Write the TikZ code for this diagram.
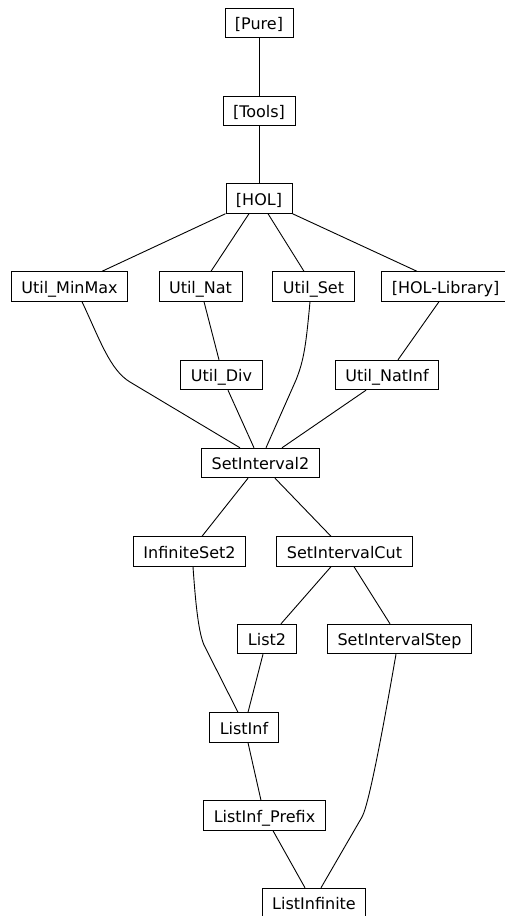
\documentclass[tikz,border=0pt]{standalone}
\usepackage{fontspec}
\setmainfont{DejaVu Sans}
\usetikzlibrary{positioning}

\begin{document}
\begin{tikzpicture}[
    x=1pt, y=-1pt,
    every node/.style={font=\fontsize{16}{19}\selectfont},
    thy/.style={draw, line width=0.9pt, inner xsep=10pt, inner ysep=0pt, minimum height=29.5pt, text height=13pt, text depth=0pt},
    dep/.style={line width=0.9pt}
]
\useasboundingbox (0,0) rectangle (505,916);
% theories
\node[thy] (pure) at (259,23) {[Pure]};
\node[thy] (tools) at (259,111) {[Tools]};
\node[thy] (hol) at (259,198.5) {[HOL]};
\node[thy] (minmax) at (69.5,286.5) {Util\_MinMax};
\node[thy] (nat) at (200.5,286.5) {Util\_Nat};
\node[thy] (set) at (313.5,286.5) {Util\_Set};
\node[thy] (hollib) at (445.5,286.5) {[HOL-Library]};
\node[thy] (div) at (221.5,375) {Util\_Div};
\node[thy] (natinf) at (387,375) {Util\_NatInf};
\node[thy] (si2) at (260.5,463) {SetInterval2};
\node[thy] (inf2) at (189.5,551.5) {InfiniteSet2};
\node[thy] (cut) at (344.5,551.5) {SetIntervalCut};
\node[thy] (list2) at (267,639) {List2};
\node[thy] (step) at (399.5,639) {SetIntervalStep};
\node[thy] (listinf) at (244,727.5) {ListInf};
\node[thy] (prefix) at (264.5,815.5) {ListInf\_Prefix};
\node[thy] (infinite) at (314,903) {ListInfinite};
% imports
\draw[dep] (pure.south) -- (tools.north);
\draw[dep] (tools.south) -- (hol.north);
\draw[dep] (hol.south west) -- ([xshift=32.5pt]minmax.north);
\draw[dep] ([xshift=-10pt]hol.south) -- ([xshift=10.5pt]nat.north);
\draw[dep] ([xshift=9pt]hol.south) -- ([xshift=-9.5pt]set.north);
\draw[dep] (hol.south east) -- ([xshift=-28.5pt]hollib.north);
\draw[dep] ([xshift=12.5pt]minmax.south) .. controls (100,340) and (110,370) .. (130,382) -- ([xshift=-20.5pt]si2.north);
\draw[dep] ([xshift=3.5pt]nat.south) -- ([xshift=-2.5pt]div.north);
\draw[dep] ([xshift=-3.5pt]set.south) .. controls (306,345) and (304,360) .. (296,380) -- ([xshift=5.5pt]si2.north);
\draw[dep] ([xshift=-6.5pt]hollib.south) -- ([xshift=11pt]natinf.north);
\draw[dep] ([xshift=6.5pt]div.south) -- ([xshift=-6.5pt]si2.north);
\draw[dep] ([xshift=-21pt]natinf.south) -- ([xshift=21.5pt]si2.north);
\draw[dep] ([xshift=-12.5pt]si2.south) -- ([xshift=12.5pt]inf2.north);
\draw[dep] ([xshift=14.5pt]si2.south) -- ([xshift=-13.5pt]cut.north);
\draw[dep] ([xshift=3.5pt]inf2.south) .. controls (196,610) and (199,633) .. (204,645) -- ([xshift=-6pt]listinf.north);
\draw[dep] ([xshift=-13.5pt]cut.south) -- ([xshift=14pt]list2.north);
\draw[dep] ([xshift=9.5pt]cut.south) -- ([xshift=-9.5pt]step.north);
\draw[dep] ([xshift=-4pt]list2.south) -- ([xshift=4pt]listinf.north);
\draw[dep] ([xshift=4pt]listinf.south) -- ([xshift=-3.5pt]prefix.north);
\draw[dep] ([xshift=8.5pt]prefix.south) -- ([xshift=-9pt]infinite.north);
\draw[dep] ([xshift=-3.5pt]step.south) .. controls (388,700) and (370,803) .. (362,817) -- ([xshift=7pt]infinite.north);
\end{tikzpicture}
\end{document}
